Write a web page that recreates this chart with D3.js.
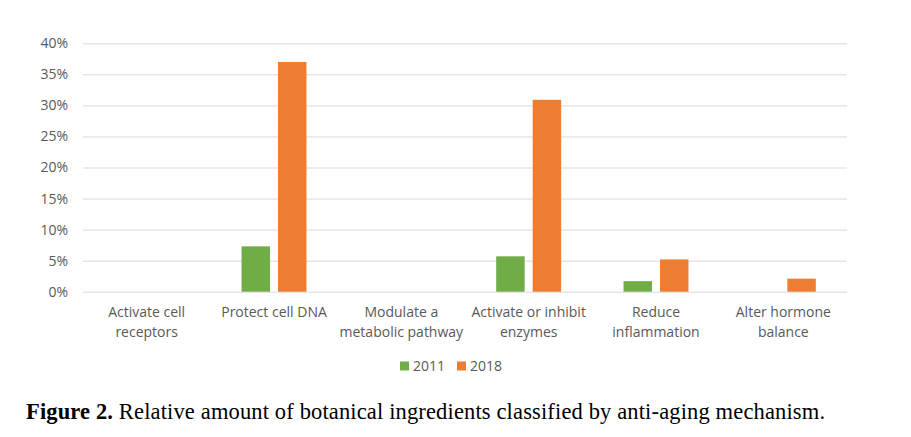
<!DOCTYPE html>
<html>
<head>
<meta charset="utf-8">
<script src="https://cdn.jsdelivr.net/npm/d3@7"></script>
<style>
  body { margin: 0; background: #fff; }
  svg { display: block; }
</style>
</head>
<body>
<div id="app"></div>
<script>
const categories = [
  "Activate cell|receptors",
  "Protect cell DNA",
  "Modulate a|metabolic pathway",
  "Activate or inhibit|enzymes",
  "Reduce|inflammation",
  "Alter hormone|balance"
];
const seriesNames = ["2011", "2018"];
const values2011 = [0, 7.3, 0, 5.7, 1.7, 0];
const values2018 = [0, 37.0, 0, 30.9, 5.2, 2.1];
const yTicks = [0, 5, 10, 15, 20, 25, 30, 35, 40];

const colors = { "2011": "#70ad47", "2018": "#ed7d31" };

const width = 911;
const height = 437;
const plotLeft = 83, plotRight = 847, plotTop = 43.3, plotBottom = 291.7;
const labelFont = '"Open Sans", sans-serif';

const svg = d3.select('#app')
  .append('svg')
  .attr('width', width)
  .attr('height', height);

const x0 = d3.scaleBand()
  .domain(categories)
  .range([plotLeft, plotRight]);

const x1 = d3.scaleBand()
  .domain(seriesNames)
  .range([0, x0.bandwidth()])
  .paddingInner(0.22)
  .paddingOuter(0.855);

const y = d3.scaleLinear()
  .domain([0, 40])
  .range([plotBottom, plotTop]);

// gridlines + y labels
const yAxis = svg.append('g')
  .attr('transform', `translate(${plotLeft}, 0)`)
  .call(d3.axisLeft(y).tickValues(yTicks).tickSize(-(plotRight - plotLeft)).tickFormat(d => d + '%'));
yAxis.select('.domain').remove();
yAxis.selectAll('line').attr('stroke', '#d9d9d9').attr('stroke-width', 1);
yAxis.selectAll('text')
  .attr('x', -15)
  .attr('fill', '#595959')
  .style('font-family', labelFont)
  .style('font-size', '14px');

// bars
const rows = categories.map((c, i) => ({ cat: c, vals: [
  { key: "2011", value: values2011[i] },
  { key: "2018", value: values2018[i] }
]}));

svg.append('g')
  .selectAll('g')
  .data(rows)
  .join('g')
  .attr('transform', d => `translate(${x0(d.cat)}, 0)`)
  .selectAll('rect')
  .data(d => d.vals.filter(v => v.value > 0))
  .join('rect')
  .attr('x', d => x1(d.key))
  .attr('width', x1.bandwidth())
  .attr('y', d => y(d.value))
  .attr('height', d => y(0) - y(d.value))
  .attr('fill', d => colors[d.key]);

// x labels
const xl = svg.append('g')
  .selectAll('text')
  .data(categories)
  .join('text')
  .attr('x', d => x0(d) + x0.bandwidth() / 2)
  .attr('y', 317)
  .attr('text-anchor', 'middle')
  .attr('fill', '#595959')
  .style('font-family', labelFont)
  .style('font-size', '14px');
xl.selectAll('tspan')
  .data(d => d.split('|'))
  .join('tspan')
  .attr('x', function () { return this.parentNode.getAttribute('x'); })
  .attr('dy', (d, i) => i === 0 ? 0 : 19.5)
  .text(d => d);

// legend
const legend = svg.append('g');
const legendX = [400, 457];
seriesNames.forEach((s, i) => {
  legend.append('rect')
    .attr('x', legendX[i]).attr('y', 361.5)
    .attr('width', 9).attr('height', 9)
    .attr('fill', colors[s]);
  legend.append('text')
    .attr('x', legendX[i] + 13).attr('y', 371)
    .attr('fill', '#595959')
    .style('font-family', labelFont)
    .style('font-size', '14px')
    .text(s);
});

// caption
const cap = svg.append('text')
  .attr('x', 26).attr('y', 419)
  .attr('fill', '#000')
  .attr('textLength', 799)
  .attr('lengthAdjust', 'spacing')
  .style('font-family', '"Liberation Serif", serif')
  .style('font-size', '22.5px');
cap.append('tspan').attr('font-weight', 'bold').text('Figure 2.');
cap.append('tspan').text(' Relative amount of botanical ingredients classified by anti-aging mechanism.');
</script>
</body>
</html>
